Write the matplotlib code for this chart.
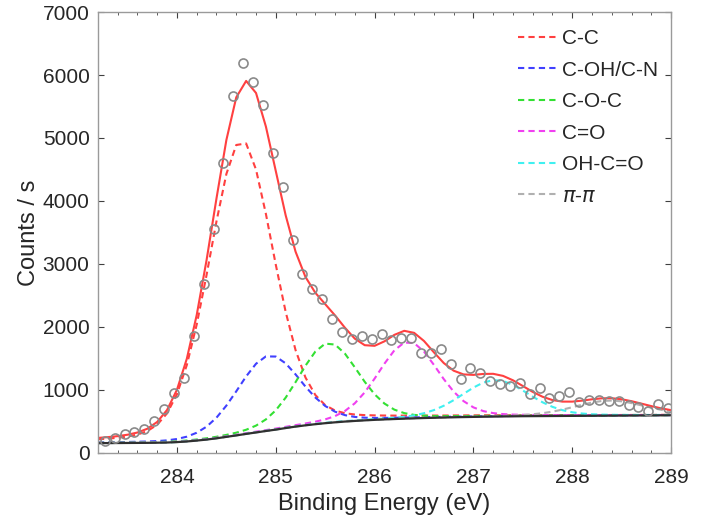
"""C1s XPS spectrum with peak-fit components."""

import matplotlib

matplotlib.use("Agg")
import matplotlib.pyplot as plt
import numpy as np
from matplotlib.ticker import MultipleLocator

plt.rcParams["font.family"] = ["Liberation Sans", "DejaVu Sans"]

# measured points (binding energy in eV, counts / s)
data_energy = [
    283.27, 283.37, 283.47, 283.57, 283.67, 283.77, 283.87, 283.97, 284.07, 284.17,
    284.27, 284.37, 284.47, 284.57, 284.67, 284.77, 284.87, 284.97, 285.07, 285.17,
    285.27, 285.37, 285.47, 285.57, 285.67, 285.77, 285.87, 285.97, 286.07, 286.17,
    286.27, 286.37, 286.47, 286.57, 286.67, 286.77, 286.87, 286.97, 287.07, 287.17,
    287.27, 287.37, 287.47, 287.57, 287.67, 287.77, 287.87, 287.97, 288.07, 288.17,
    288.27, 288.37, 288.47, 288.57, 288.67, 288.77, 288.87, 288.97,
]
data_counts = [
    195, 233, 297, 328, 376, 508, 693, 957, 1185, 1862,
    2678, 3550, 4598, 5667, 6195, 5894, 5529, 4767, 4227, 3381,
    2836, 2598, 2439, 2122, 1926, 1804, 1857, 1804, 1889, 1794,
    1830, 1830, 1592, 1582, 1646, 1413, 1170, 1354, 1265, 1148,
    1090, 1063, 1106, 937, 1037, 878, 905, 973, 805, 841,
    841, 830, 821, 757, 735, 671, 778, 709,
]

# fit grid and Shirley-type background
fit_energy = [
    283.2, 283.3, 283.4, 283.5, 283.6, 283.7, 283.8, 283.9, 284.0, 284.1,
    284.2, 284.3, 284.4, 284.5, 284.6, 284.7, 284.8, 284.9, 285.0, 285.1,
    285.2, 285.3, 285.4, 285.5, 285.6, 285.7, 285.8, 285.9, 286.0, 286.1,
    286.2, 286.3, 286.4, 286.5, 286.6, 286.7, 286.8, 286.9, 287.0, 287.1,
    287.2, 287.3, 287.4, 287.5, 287.6, 287.7, 287.8, 287.9, 288.0, 288.1,
    288.2, 288.3, 288.4, 288.5, 288.6, 288.7, 288.8, 288.9, 289.0,
]
background = [
    155, 156, 157, 158, 159, 160, 162, 165, 172, 182,
    196, 212, 232, 255, 278, 302, 325, 348, 370, 395,
    418, 438, 456, 472, 486, 498, 508, 517, 525, 532,
    538, 544, 549, 554, 558, 562, 566, 569, 572, 575,
    577, 579, 581, 583, 584, 585, 586, 587, 588, 589,
    590, 591, 592, 593, 594, 595, 596, 597, 598,
]

# fitted components: name, centre (eV), height (counts / s), FWHM (eV)
peak_names = ["C-C", "C-OH/C-N", "C-O-C", "C=O", "OH-C=O", r"$\pi$-$\pi$"]
peak_centres = [284.65, 284.93, 285.53, 286.34, 287.22, 288.38]
peak_heights = [4670, 1190, 1270, 1220, 580, 240]
peak_fwhm = [0.77, 0.76, 0.72, 0.72, 0.80, 0.85]
peak_colors = ["#ff4040", "#4040ff", "#33e033", "#f040f0", "#40f0f0", "#b0b0b0"]
lorentz_fraction = 0.2


def pseudo_voigt(x, centre, height, fwhm, mix):
    sigma = fwhm / (2 * np.sqrt(2 * np.log(2)))
    gauss = np.exp(-((x - centre) ** 2) / (2 * sigma**2))
    lorentz = 1 / (1 + (2 * (x - centre) / fwhm) ** 2)
    return height * ((1 - mix) * gauss + mix * lorentz)


x = np.array(fit_energy)
bg = np.array(background, dtype=float)
components = [
    pseudo_voigt(x, c, h, w, lorentz_fraction)
    for c, h, w in zip(peak_centres, peak_heights, peak_fwhm)
]
envelope = bg + np.sum(components, axis=0)

fig = plt.figure(figsize=(7.2, 5.23), dpi=100)
ax = fig.add_axes([0.136, 0.134, 0.796, 0.843])

dash = (0, (3, 2))
for name, comp, color in zip(peak_names, components, peak_colors):
    ax.plot(x, bg + comp, color=color, lw=1.5, linestyle=dash, label=name)
ax.plot(x, bg, color="#303030", lw=1.6)
ax.plot(x, envelope, color="#ff4040", lw=1.5)
ax.plot(data_energy, data_counts, "o", mfc="none", mec="#8a8a8a", mew=1.2, ms=6.5)

ax.set_xlim(283.2, 289)
ax.set_ylim(0, 7000)
ax.xaxis.set_major_locator(MultipleLocator(1))
ax.xaxis.set_minor_locator(MultipleLocator(0.2))
ax.yaxis.set_major_locator(MultipleLocator(1000))
ax.tick_params(which="both", direction="in", top=True, right=True,
               colors="#404040", labelsize=15, labelcolor="#262626")
ax.tick_params(which="major", length=4)
ax.tick_params(which="minor", length=2.5)
ax.tick_params(axis="x", pad=11)
ax.tick_params(axis="y", pad=6)
for spine in ax.spines.values():
    spine.set_color("#9a9a9a")
    spine.set_linewidth(1.0)

ax.set_xlabel("Binding Energy (eV)", fontsize=17, color="#262626", labelpad=4)
ax.set_ylabel("Counts / s", fontsize=17, color="#262626", labelpad=2)

ax.legend(loc="upper right", bbox_to_anchor=(1.01, 1.004), frameon=False,
          fontsize=15, handlelength=1.9, handletextpad=0.2, labelspacing=0.6,
          labelcolor="#262626")

fig.savefig("out.png", dpi=100)
